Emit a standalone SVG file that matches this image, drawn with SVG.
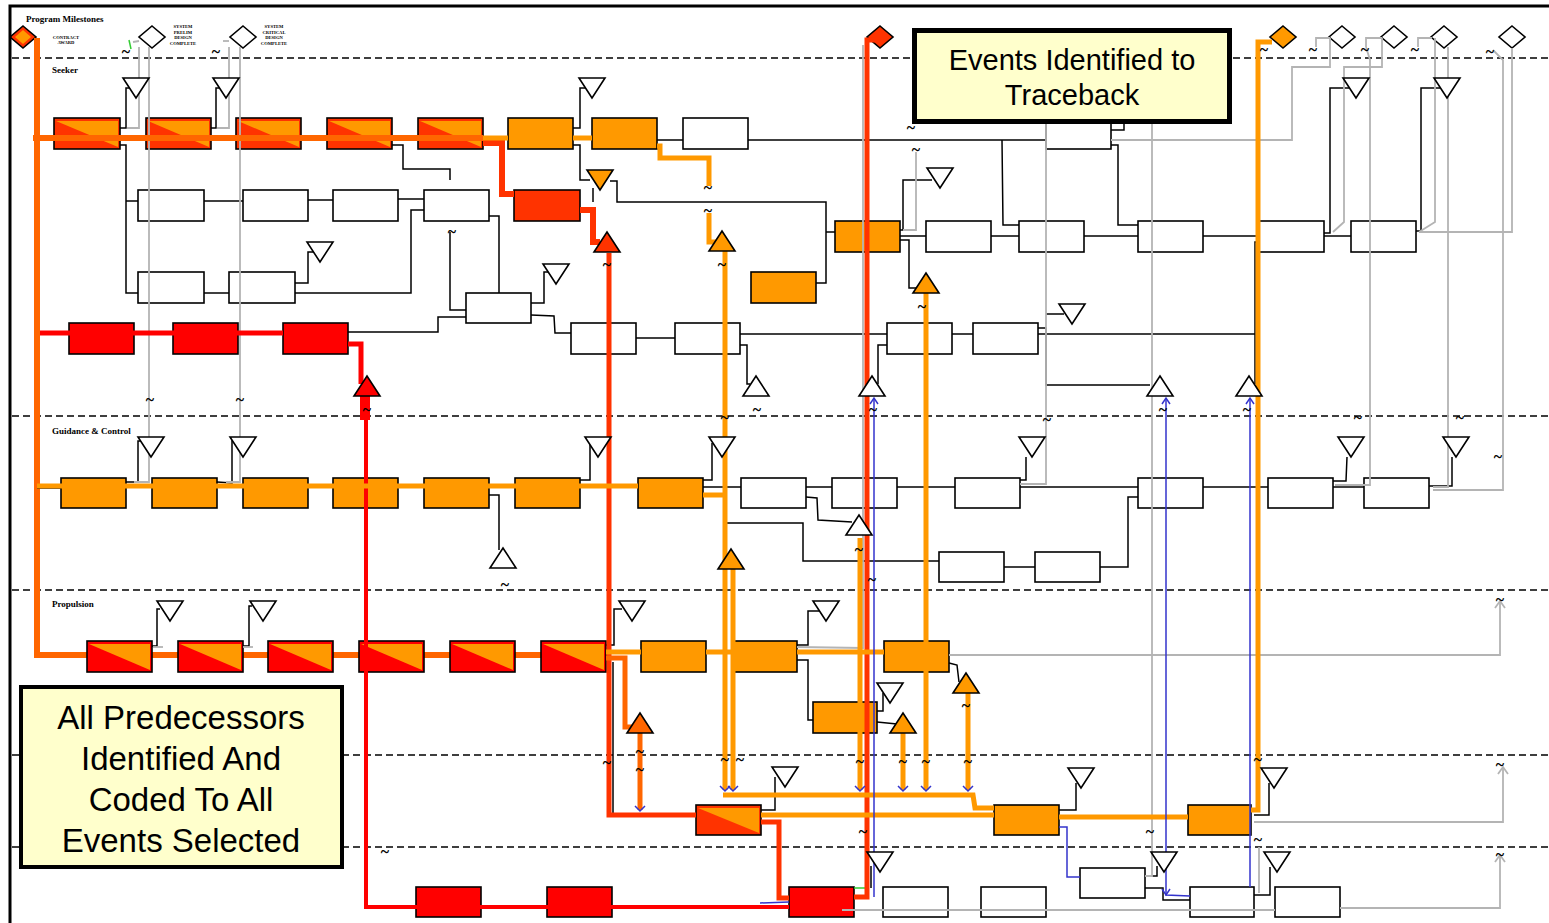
<svg xmlns="http://www.w3.org/2000/svg" width="1549" height="923" viewBox="0 0 1549 923">
<style>
.b{stroke:#000;stroke-width:1.6}
.w{fill:#fff}.o{fill:#FF9900}.r{fill:#FF0000}.ro{fill:#FF3300}.oo{fill:#FF6600}
.tri{stroke:#000;stroke-width:1.6}
.k{fill:none;stroke:#000;stroke-width:1.5}
.g{fill:none;stroke:#B4B4B4;stroke-width:1.8}
.bl{fill:none;stroke:#3333CC;stroke-width:1.5}
.d{stroke:#000;stroke-width:1.4;stroke-dasharray:7 4}
.lane{font-family:"Liberation Serif",serif;font-weight:bold;font-size:9px;fill:#000}
.ms{font-family:"Liberation Serif",serif;font-weight:bold;font-size:4.6px;fill:#000;text-anchor:middle}
.t{font-family:"Liberation Serif",serif;font-weight:bold;font-size:16px;fill:#000;text-anchor:middle}
.co{font-family:"Liberation Sans",Arial,sans-serif;fill:#000;text-anchor:middle}
.th{fill:none;stroke-linejoin:miter}
</style>
<defs>
<polygon id="td" points="-13,0 13,0 0,20"/>
<polygon id="tu" points="-13,20 13,20 0,0"/>
<polygon id="dm" points="0,-11 13,0 0,11 -13,0"/>
</defs>

<g id="lanes">
<line class="d" x1="12" y1="58" x2="1549" y2="58"/>
<line class="d" x1="12" y1="416" x2="1549" y2="416"/>
<line class="d" x1="12" y1="590" x2="1549" y2="590"/>
<line class="d" x1="12" y1="755" x2="1549" y2="755"/>
<line class="d" x1="12" y1="847" x2="1549" y2="847"/>
<text class="lane" x="26" y="22">Program Milestones</text>
<text class="lane" x="52" y="73">Seeker</text>
<text class="lane" x="52" y="434">Guidance &amp; Control</text>
<text class="lane" x="52" y="607">Propulsion</text>
</g>

<g id="milestones">
<g id="m-contract"><use href="#dm" x="23" y="37" class="ro tri"/><polygon class="o" points="23,30 31,37 23,44 15,37"/>
<text class="ms" x="66" y="39">CONTRACT</text><text class="ms" x="66" y="44">AWARD</text></g>
<g id="m-prelim"><use href="#dm" x="152" y="37" class="w tri"/>
<text class="ms" x="183" y="28">SYSTEM</text><text class="ms" x="183" y="34">PRELIM</text><text class="ms" x="183" y="38.5">DESIGN</text><text class="ms" x="183" y="44.5">COMPLETE</text></g>
<g id="m-critical"><use href="#dm" x="243" y="37" class="w tri"/>
<text class="ms" x="274" y="28">SYSTEM</text><text class="ms" x="274" y="34">CRITICAL</text><text class="ms" x="274" y="38.5">DESIGN</text><text class="ms" x="274" y="44.5">COMPLETE</text></g>
<g id="m-red"><use href="#dm" x="880" y="37" class="ro tri"/></g>
<g id="m-orange"><use href="#dm" x="1283" y="37" class="o tri"/></g>
<g id="m-w1"><use href="#dm" x="1342" y="37" class="w tri"/></g>
<g id="m-w2"><use href="#dm" x="1394" y="37" class="w tri"/></g>
<g id="m-w3"><use href="#dm" x="1444" y="37" class="w tri"/></g>
<g id="m-w4"><use href="#dm" x="1512" y="37" class="w tri"/></g>
</g>

<g id="under-lines">
<path class="th" stroke="#FF6600" stroke-width="6" d="M37,38 V655 H606"/>
</g>

<g id="nodes">
<g id="s1a"><rect class="b ro" x="54" y="118" width="66" height="31"/><polygon class="o" points="56,121 118,121 118,147"/></g>
<g id="s1b"><rect class="b ro" x="146" y="118" width="65" height="31"/><polygon class="o" points="148,121 209,121 209,147"/></g>
<g id="s1c"><rect class="b ro" x="236" y="118" width="65" height="31"/><polygon class="o" points="238,121 299,121 299,147"/></g>
<g id="s1d"><rect class="b ro" x="327" y="118" width="65" height="31"/><polygon class="o" points="329,121 390,121 390,147"/></g>
<g id="s1e"><rect class="b ro" x="418" y="118" width="65" height="31"/><polygon class="o" points="420,121 481,121 481,147"/></g>
<g id="s1f"><rect class="b o" x="508" y="118" width="65" height="31"/></g>
<g id="s1g"><rect class="b o" x="592" y="118" width="65" height="31"/></g>
<g id="s1h"><rect class="b w" x="683" y="118" width="65" height="31"/></g>
<g id="s1i"><rect class="b w" x="1046" y="118" width="65" height="31"/></g>
<g id="s2a"><rect class="b w" x="138" y="190" width="66" height="31"/></g>
<g id="s2b"><rect class="b w" x="243" y="190" width="65" height="31"/></g>
<g id="s2c"><rect class="b w" x="333" y="190" width="65" height="31"/></g>
<g id="s2d"><rect class="b w" x="424" y="190" width="65" height="31"/></g>
<g id="s2e"><rect class="b ro" x="514" y="190" width="66" height="31"/></g>
<g id="s3a"><rect class="b w" x="138" y="272" width="66" height="31"/></g>
<g id="s3b"><rect class="b w" x="229" y="272" width="66" height="31"/></g>
<g id="s3c"><rect class="b o" x="751" y="272" width="65" height="31"/></g>
<g id="s3d"><rect class="b w" x="466" y="293" width="65" height="30"/></g>
<g id="s4a"><rect class="b o" x="835" y="221" width="65" height="31"/></g>
<g id="s4b"><rect class="b w" x="926" y="221" width="65" height="31"/></g>
<g id="s4c"><rect class="b w" x="1019" y="221" width="65" height="31"/></g>
<g id="s4d"><rect class="b w" x="1138" y="221" width="65" height="31"/></g>
<g id="s4e"><rect class="b w" x="1259" y="221" width="65" height="31"/></g>
<g id="s4f"><rect class="b w" x="1351" y="221" width="65" height="31"/></g>
<g id="s5a"><rect class="b r" x="69" y="323" width="65" height="31"/></g>
<g id="s5b"><rect class="b r" x="173" y="323" width="65" height="31"/></g>
<g id="s5c"><rect class="b r" x="283" y="323" width="65" height="31"/></g>
<g id="s5d"><rect class="b w" x="571" y="323" width="65" height="31"/></g>
<g id="s5e"><rect class="b w" x="675" y="323" width="65" height="31"/></g>
<g id="s5f"><rect class="b w" x="887" y="323" width="65" height="31"/></g>
<g id="s5g"><rect class="b w" x="973" y="323" width="65" height="31"/></g>
<g id="g1"><rect class="b o" x="61" y="478" width="65" height="30"/></g>
<g id="g2"><rect class="b o" x="152" y="478" width="65" height="30"/></g>
<g id="g3"><rect class="b o" x="243" y="478" width="65" height="30"/></g>
<g id="g4"><rect class="b o" x="333" y="478" width="65" height="30"/></g>
<g id="g5"><rect class="b o" x="424" y="478" width="65" height="30"/></g>
<g id="g6"><rect class="b o" x="515" y="478" width="65" height="30"/></g>
<g id="g7"><rect class="b o" x="638" y="478" width="65" height="30"/></g>
<g id="g8"><rect class="b w" x="741" y="478" width="65" height="30"/></g>
<g id="g9"><rect class="b w" x="832" y="478" width="65" height="30"/></g>
<g id="g10"><rect class="b w" x="955" y="478" width="65" height="30"/></g>
<g id="g11"><rect class="b w" x="1138" y="478" width="65" height="30"/></g>
<g id="g12"><rect class="b w" x="1268" y="478" width="65" height="30"/></g>
<g id="g13"><rect class="b w" x="1364" y="478" width="65" height="30"/></g>
<g id="g14"><rect class="b w" x="939" y="552" width="65" height="30"/></g>
<g id="g15"><rect class="b w" x="1035" y="552" width="65" height="30"/></g>
<g id="p1"><rect class="b r" x="87" y="641" width="65" height="31"/><polygon class="o" points="89,644 150,644 150,670"/></g>
<g id="p2"><rect class="b r" x="178" y="641" width="65" height="31"/><polygon class="o" points="180,644 241,644 241,670"/></g>
<g id="p3"><rect class="b r" x="268" y="641" width="65" height="31"/><polygon class="o" points="270,644 331,644 331,670"/></g>
<g id="p4"><rect class="b r" x="359" y="641" width="65" height="31"/><polygon class="o" points="361,644 422,644 422,670"/></g>
<g id="p5"><rect class="b r" x="450" y="641" width="65" height="31"/><polygon class="o" points="452,644 513,644 513,670"/></g>
<g id="p6"><rect class="b r" x="541" y="641" width="65" height="31"/><polygon class="o" points="543,644 604,644 604,670"/></g>
<g id="p7"><rect class="b o" x="641" y="641" width="65" height="31"/></g>
<g id="p8"><rect class="b o" x="732" y="641" width="65" height="31"/></g>
<g id="p9"><rect class="b o" x="884" y="641" width="65" height="31"/></g>
<g id="p10"><rect class="b o" x="813" y="702" width="64" height="31"/></g>
<g id="l1"><rect class="b ro" x="696" y="805" width="65" height="30"/><polygon class="o" points="698,808 759,808 759,833"/></g>
<g id="l2"><rect class="b o" x="994" y="805" width="65" height="30"/></g>
<g id="l3"><rect class="b o" x="1188" y="805" width="63" height="30"/></g>
<g id="l4"><rect class="b r" x="416" y="887" width="65" height="30"/></g>
<g id="l5"><rect class="b r" x="547" y="887" width="65" height="30"/></g>
<g id="l6"><rect class="b r" x="789" y="887" width="65" height="30"/></g>
<g id="l7"><rect class="b w" x="883" y="887" width="65" height="30"/></g>
<g id="l8"><rect class="b w" x="981" y="887" width="65" height="30"/></g>
<g id="l9"><rect class="b w" x="1080" y="868" width="65" height="30"/></g>
<g id="l10"><rect class="b w" x="1190" y="887" width="64" height="30"/></g>
<g id="l11"><rect class="b w" x="1275" y="887" width="65" height="30"/></g>
</g>

<g id="connectors">
<g id="black">
<polyline class="k" points="120,128 126,128 126,88 129,88"/>
<polyline class="k" points="211,128 216,128 216,88 219,88"/>
<polyline class="k" points="120,145 126,145 126,293 138,293"/>
<polyline class="k" points="126,201 138,201"/>
<polyline class="k" points="204,201 243,201"/>
<polyline class="k" points="308,200 333,200"/>
<polyline class="k" points="398,199 424,199"/>
<polyline class="k" points="204,293 229,293"/>
<polyline class="k" points="295,283 308,283 308,252 314,252"/>
<polyline class="k" points="295,293 411,293 411,210 424,210"/>
<polyline class="k" points="392,145 403,145 403,169 450,169 450,180"/>
<polyline class="k" points="489,216 499,216 499,293"/>
<polyline class="k" points="450,232 450,310 466,310"/>
<polyline class="k" points="531,303 544,303 544,272 550,272"/>
<polyline class="k" points="466,317 438,317 438,332 348,332"/>
<polyline class="k" points="531,315 554,316 555,333 571,333"/>
<polyline class="k" points="636,338 675,338"/>
<polyline class="k" points="740,334 887,334"/>
<polyline class="k" points="952,334 973,334"/>
<polyline class="k" points="1038,334 1255,334"/>
<polyline class="k" points="740,345 747,345 747,384 750,384"/>
<polyline class="k" points="887,345 878,345 878,384"/>
<polyline class="k" points="1038,328 1046,328 1046,385 1150,385"/>
<polyline class="k" points="1046,314 1064,314"/>
<polyline class="k" points="573,128 580,128 580,88 586,88"/>
<polyline class="k" points="573,145 580,145 580,180 590,180"/>
<polyline class="k" points="593,188 593,202"/>
<polyline class="k" points="610,181 617,181 617,202 826,202 826,283 816,283"/>
<polyline class="k" points="826,232 835,232"/>
<polyline class="k" points="657,140 683,140"/>
<polyline class="k" points="748,140 1046,140"/>
<polyline class="k" points="1002,140 1003,225 1019,225"/>
<polyline class="k" points="1111,145 1118,145 1118,225 1138,225"/>
<polyline class="k" points="1111,130 1124,130 1124,124"/>
<polyline class="k" points="900,236 926,236"/>
<polyline class="k" points="991,236 1019,236"/>
<polyline class="k" points="1084,236 1138,236"/>
<polyline class="k" points="1203,236 1259,236"/>
<polyline class="k" points="1324,236 1351,236"/>
<polyline class="k" points="900,230 903,230 903,180 932,180"/>
<polyline class="k" points="900,240 909,240 909,288 916,288"/>
<polyline class="k" points="1324,233 1330,233 1330,88 1349,88"/>
<polyline class="k" points="1416,231 1421,231 1421,88 1440,88"/>
<polyline class="k" points="1259,242 1255,242 1255,384"/>
<polyline class="k" points="126,482 138,482 138,441 141,441"/>
<polyline class="k" points="217,482 232,483 232,441 234,441"/>
<polyline class="k" points="580,480 590,480 590,443"/>
<polyline class="k" points="703,480 712,480 712,443"/>
<polyline class="k" points="489,495 499,495 499,550"/>
<polyline class="k" points="703,487 741,487"/>
<polyline class="k" points="806,487 832,487"/>
<polyline class="k" points="897,487 955,487"/>
<polyline class="k" points="1020,487 1138,487"/>
<polyline class="k" points="1203,487 1268,487"/>
<polyline class="k" points="1333,487 1364,487"/>
<polyline class="k" points="806,497 817,498 818,520 852,522"/>
<polyline class="k" points="725,523 803,523 803,561 939,561"/>
<polyline class="k" points="1004,567 1035,567"/>
<polyline class="k" points="1100,567 1128,567 1128,497 1138,497"/>
<polyline class="k" points="1020,480 1026,480 1026,457"/>
<polyline class="k" points="1333,481 1346,481 1347,457"/>
<polyline class="k" points="1429,486 1452,486 1452,457"/>
<polyline class="k" points="37,488 61,488"/>
<polyline class="k" points="152,646 157,646 157,609 160,609"/>
<polyline class="k" points="243,646 249,646 249,606 252,606"/>
<polyline class="k" points="606,645 614,645 614,609 622,609"/>
<polyline class="k" points="613,662 613,813"/>
<polyline class="k" points="797,645 808,645 808,611 819,611"/>
<polyline class="k" points="797,660 808,660 808,720 813,720"/>
<polyline class="k" points="877,711 883,711 883,693"/>
<polyline class="k" points="877,722 897,724"/>
<polyline class="k" points="949,663 957,665 959,682"/>
<polyline class="k" points="761,810 775,810 775,777"/>
<polyline class="k" points="1059,810 1076,810 1076,783"/>
<polyline class="k" points="1254,815 1269,815 1269,783"/>
<polyline class="k" points="1145,888 1163,888 1163,900 1190,900"/>
<polyline class="k" points="1145,876 1157,876 1157,866"/>
<polyline class="k" points="1254,895 1270,895 1270,867"/>
<polyline class="k" points="871,866 871,888"/>
</g>
<g id="gray">
<polyline class="g" points="133,42 139,41"/>
<polyline class="g" points="139,47 139,128 127,128"/>
<polyline class="g" points="149,47 149,482 134,482"/>
<polyline class="g" points="223,41 229,41"/>
<polyline class="g" points="229,47 229,128 217,128"/>
<polyline class="g" points="240,47 240,482 226,482"/>
<polyline class="g" points="153,647 163,647"/>
<polyline class="g" points="243,647 253,647"/>
<polyline class="g" points="916,152 916,230 903,230"/>
<polyline class="g" points="863,45 863,648 797,647"/>
<polyline class="g" points="1020,484 1046,484 1046,124"/>
<polyline class="g" points="1152,124 1152,876 1145,876"/>
<polyline class="g" points="1111,140 1292,140 1292,67 1330,67 1330,38"/>
<polyline class="g" points="1316,47 1316,38 1330,38"/>
<polyline class="g" points="1333,232 1344,222 1344,67 1382,67 1382,38"/>
<polyline class="g" points="1366,47 1366,38 1382,38"/>
<polyline class="g" points="1335,485 1370,485 1370,60 1366,47"/>
<polyline class="g" points="1419,232 1435,222 1435,38"/>
<polyline class="g" points="1418,47 1418,38 1432,38"/>
<polyline class="g" points="1448,47 1448,487 1433,487"/>
<polyline class="g" points="1419,232 1512,232 1512,48"/>
<polyline class="g" points="1493,50 1503,60 1503,490 1433,490"/>
<polyline class="g" points="949,655 1500,655 1500,602"/>
<polyline class="g" points="1495,608 1500,601 1505,608"/>
<polyline class="g" points="1254,822 1503,822 1503,768"/>
<polyline class="g" points="1498,774 1503,767 1508,774"/>
<polyline class="g" points="1340,908 1500,908 1500,856"/>
<polyline class="g" points="1495,862 1500,855 1505,862"/>
<polyline class="g" points="842,910 1275,910"/>
<polyline class="g" points="1259,847 1259,893"/>
</g>
<g id="green">
<polyline fill="none" stroke="#33CC33" stroke-width="1.5" points="129,40 131,49"/>
<polyline fill="none" stroke="#33CC33" stroke-width="1.5" points="854,888 866,888"/>
</g>
<g id="thick">
<path class="th" stroke="#FF6600" stroke-width="6" d="M33,138 H483"/>
<path class="th" stroke="#FF0000" stroke-width="5" d="M40,333 H283"/>
<path class="th" stroke="#FF0000" stroke-width="5" d="M348,344 H361 V384"/>
<rect x="360" y="396" width="10" height="24" fill="#FF0000"/>
<path class="th" stroke="#FF0000" stroke-width="4" d="M366,420 V907 H789"/>
<path class="th" stroke="#FF3300" stroke-width="6" d="M483,143 H502 V194 H514"/>
<path class="th" stroke="#FF3300" stroke-width="6" d="M580,210 H593 V242 H600"/>
<path class="th" stroke="#FF3300" stroke-width="5" d="M609,253 V815 H696"/>
<path class="th" stroke="#FF3300" stroke-width="5" d="M761,822 H779 V898 H789"/>
<path class="th" stroke="#FF3300" stroke-width="5" d="M854,897 H867 V40 H876"/>
<path class="th" stroke="#FF9900" stroke-width="5" d="M483,138 H508 M573,138 H592"/>
<path class="th" stroke="#FF9900" stroke-width="5" d="M657,146 H660 V158 H709 V186 M709,213 V242 H716"/>
<path class="th" stroke="#FF9900" stroke-width="5" d="M37,486 H638 M703,495 H725"/>
<path class="th" stroke="#FF9900" stroke-width="5" d="M725,251 V790"/>
<path class="th" stroke="#FF9900" stroke-width="5" d="M733,569 V790"/>
<path class="th" stroke="#FF9900" stroke-width="5" d="M860,538 V790"/>
<path class="th" stroke="#FF9900" stroke-width="5" d="M926,293 V790"/>
<path class="th" stroke="#FF9900" stroke-width="5" d="M903,733 V790"/>
<path class="th" stroke="#FF9900" stroke-width="5" d="M968,693 V790"/>
<path class="th" stroke="#FF9900" stroke-width="5" d="M723,795 H973 L975,808 H994"/>
<path class="th" stroke="#FF9900" stroke-width="5" d="M761,815 H994"/>
<path class="th" stroke="#FF9900" stroke-width="5" d="M606,652 H641 M706,652 H732 M797,652 H884"/>
<path class="th" stroke="#FF9900" stroke-width="5" d="M1059,817 H1188"/>
<path class="th" stroke="#FF9900" stroke-width="5" d="M1251,810 H1258 V42 H1272"/>
<path class="th" stroke="#FF6600" stroke-width="5" d="M606,658 H625 V727 H633"/>
<path class="th" stroke="#FF6600" stroke-width="5" d="M640,733 V810"/>
</g>
<g id="blue">
<polyline class="bl" points="874,398 874,897"/>
<polyline class="bl" points="870,404 874,398 878,404"/>
<polyline class="bl" points="1166,398 1166,895 1190,896"/>
<polyline class="bl" points="1162,404 1166,398 1170,404"/>
<polyline class="bl" points="1162,889 1166,895 1170,889"/>
<polyline class="bl" points="1250,398 1250,887"/>
<polyline class="bl" points="1246,404 1250,398 1254,404"/>
<polyline class="bl" points="1059,827 1067,827 1067,877 1080,877"/>
<polyline class="bl" points="760,903 789,902"/>
<polyline class="bl" points="720,786 725,791 730,786"/>
<polyline class="bl" points="728,786 733,791 738,786"/>
<polyline class="bl" points="855,786 860,791 865,786"/>
<polyline class="bl" points="898,786 903,791 908,786"/>
<polyline class="bl" points="921,786 926,791 931,786"/>
<polyline class="bl" points="963,786 968,791 973,786"/>
<polyline class="bl" points="635,806 640,811 645,806"/>
</g>
</g>

<g id="markers">
<use href="#td" x="136" y="78" class="w tri"/>
<use href="#td" x="226" y="78" class="w tri"/>
<use href="#td" x="592" y="78" class="w tri"/>
<use href="#td" x="1356" y="78" class="w tri"/>
<use href="#td" x="1447" y="78" class="w tri"/>
<use href="#td" x="940" y="168" class="w tri"/>
<use href="#td" x="320" y="242" class="w tri"/>
<use href="#td" x="556" y="264" class="w tri"/>
<use href="#td" x="1072" y="304" class="w tri"/>
<use href="#td" x="151" y="437" class="w tri"/>
<use href="#td" x="243" y="437" class="w tri"/>
<use href="#td" x="598" y="437" class="w tri"/>
<use href="#td" x="722" y="437" class="w tri"/>
<use href="#td" x="1032" y="437" class="w tri"/>
<use href="#td" x="1351" y="437" class="w tri"/>
<use href="#td" x="1456" y="437" class="w tri"/>
<use href="#td" x="170" y="601" class="w tri"/>
<use href="#td" x="263" y="601" class="w tri"/>
<use href="#td" x="632" y="601" class="w tri"/>
<use href="#td" x="826" y="601" class="w tri"/>
<use href="#td" x="890" y="683" class="w tri"/>
<use href="#td" x="785" y="767" class="w tri"/>
<use href="#td" x="1081" y="768" class="w tri"/>
<use href="#td" x="1274" y="768" class="w tri"/>
<use href="#td" x="880" y="852" class="w tri"/>
<use href="#td" x="1164" y="852" class="w tri"/>
<use href="#td" x="1277" y="852" class="w tri"/>
<use href="#td" x="600" y="170" class="o tri"/>
<use href="#tu" x="367" y="376" class="r tri"/>
<use href="#tu" x="607" y="232" class="ro tri"/>
<use href="#tu" x="722" y="231" class="o tri"/>
<use href="#tu" x="926" y="273" class="o tri"/>
<use href="#tu" x="756" y="376" class="w tri"/>
<use href="#tu" x="872" y="376" class="w tri"/>
<use href="#tu" x="1160" y="376" class="w tri"/>
<use href="#tu" x="1249" y="376" class="w tri"/>
<use href="#tu" x="503" y="548" class="w tri"/>
<use href="#tu" x="859" y="515" class="w tri"/>
<use href="#tu" x="731" y="549" class="o tri"/>
<use href="#tu" x="966" y="673" class="o tri"/>
<use href="#tu" x="640" y="713" class="oo tri"/>
<use href="#tu" x="903" y="713" class="o tri"/>
</g>

<g id="tildes">
<text class="t" x="126" y="57">~</text><text class="t" x="216" y="57">~</text>
<text class="t" x="1264" y="55">~</text><text class="t" x="1313" y="55">~</text><text class="t" x="1365" y="55">~</text><text class="t" x="1415" y="55">~</text><text class="t" x="1490" y="57">~</text>
<text class="t" x="911" y="133">~</text><text class="t" x="916" y="155">~</text><text class="t" x="452" y="237">~</text>
<text class="t" x="708" y="193">~</text><text class="t" x="708" y="216">~</text>
<text class="t" x="607" y="270">~</text><text class="t" x="722" y="270">~</text><text class="t" x="922" y="312">~</text>
<text class="t" x="150" y="405">~</text><text class="t" x="240" y="405">~</text><text class="t" x="367" y="415">~</text>
<text class="t" x="757" y="415">~</text><text class="t" x="873" y="415">~</text>
<text class="t" x="725" y="423">~</text><text class="t" x="1047" y="425">~</text><text class="t" x="1163" y="415">~</text><text class="t" x="1247" y="415">~</text>
<text class="t" x="1358" y="423">~</text><text class="t" x="1460" y="423">~</text><text class="t" x="1498" y="462">~</text>
<text class="t" x="505" y="590">~</text><text class="t" x="859" y="555">~</text><text class="t" x="872" y="585">~</text>
<text class="t" x="1500" y="605" fill="#999">~</text>
<text class="t" x="607" y="768">~</text><text class="t" x="640" y="757">~</text><text class="t" x="640" y="775">~</text>
<text class="t" x="725" y="765">~</text><text class="t" x="740" y="765">~</text><text class="t" x="860" y="767">~</text>
<text class="t" x="903" y="767">~</text><text class="t" x="926" y="767">~</text><text class="t" x="968" y="767">~</text>
<text class="t" x="966" y="711">~</text><text class="t" x="863" y="837">~</text><text class="t" x="385" y="857">~</text>
<text class="t" x="1150" y="837">~</text><text class="t" x="1258" y="765">~</text><text class="t" x="1258" y="845">~</text>
<text class="t" x="1500" y="770">~</text><text class="t" x="1500" y="860">~</text>
</g>

<g id="callout-traceback">
<rect x="914.5" y="30.5" width="315" height="91" fill="#FFFFCC" stroke="#000" stroke-width="5"/>
<text class="co" x="1072" y="70" font-size="29">Events Identified to</text>
<text class="co" x="1072" y="105" font-size="29">Traceback</text>
</g>
<g id="callout-predecessors">
<rect x="21" y="687" width="321" height="180" fill="#FFFFCC" stroke="#000" stroke-width="4"/>
<text class="co" x="181" y="729" font-size="33">All Predecessors</text>
<text class="co" x="181" y="770" font-size="33">Identified And</text>
<text class="co" x="181" y="811" font-size="33">Coded To All</text>
<text class="co" x="181" y="852" font-size="33">Events Selected</text>
</g>

<path id="frame" d="M10,923 V6 H1549" fill="none" stroke="#000" stroke-width="3"/>
</svg>
